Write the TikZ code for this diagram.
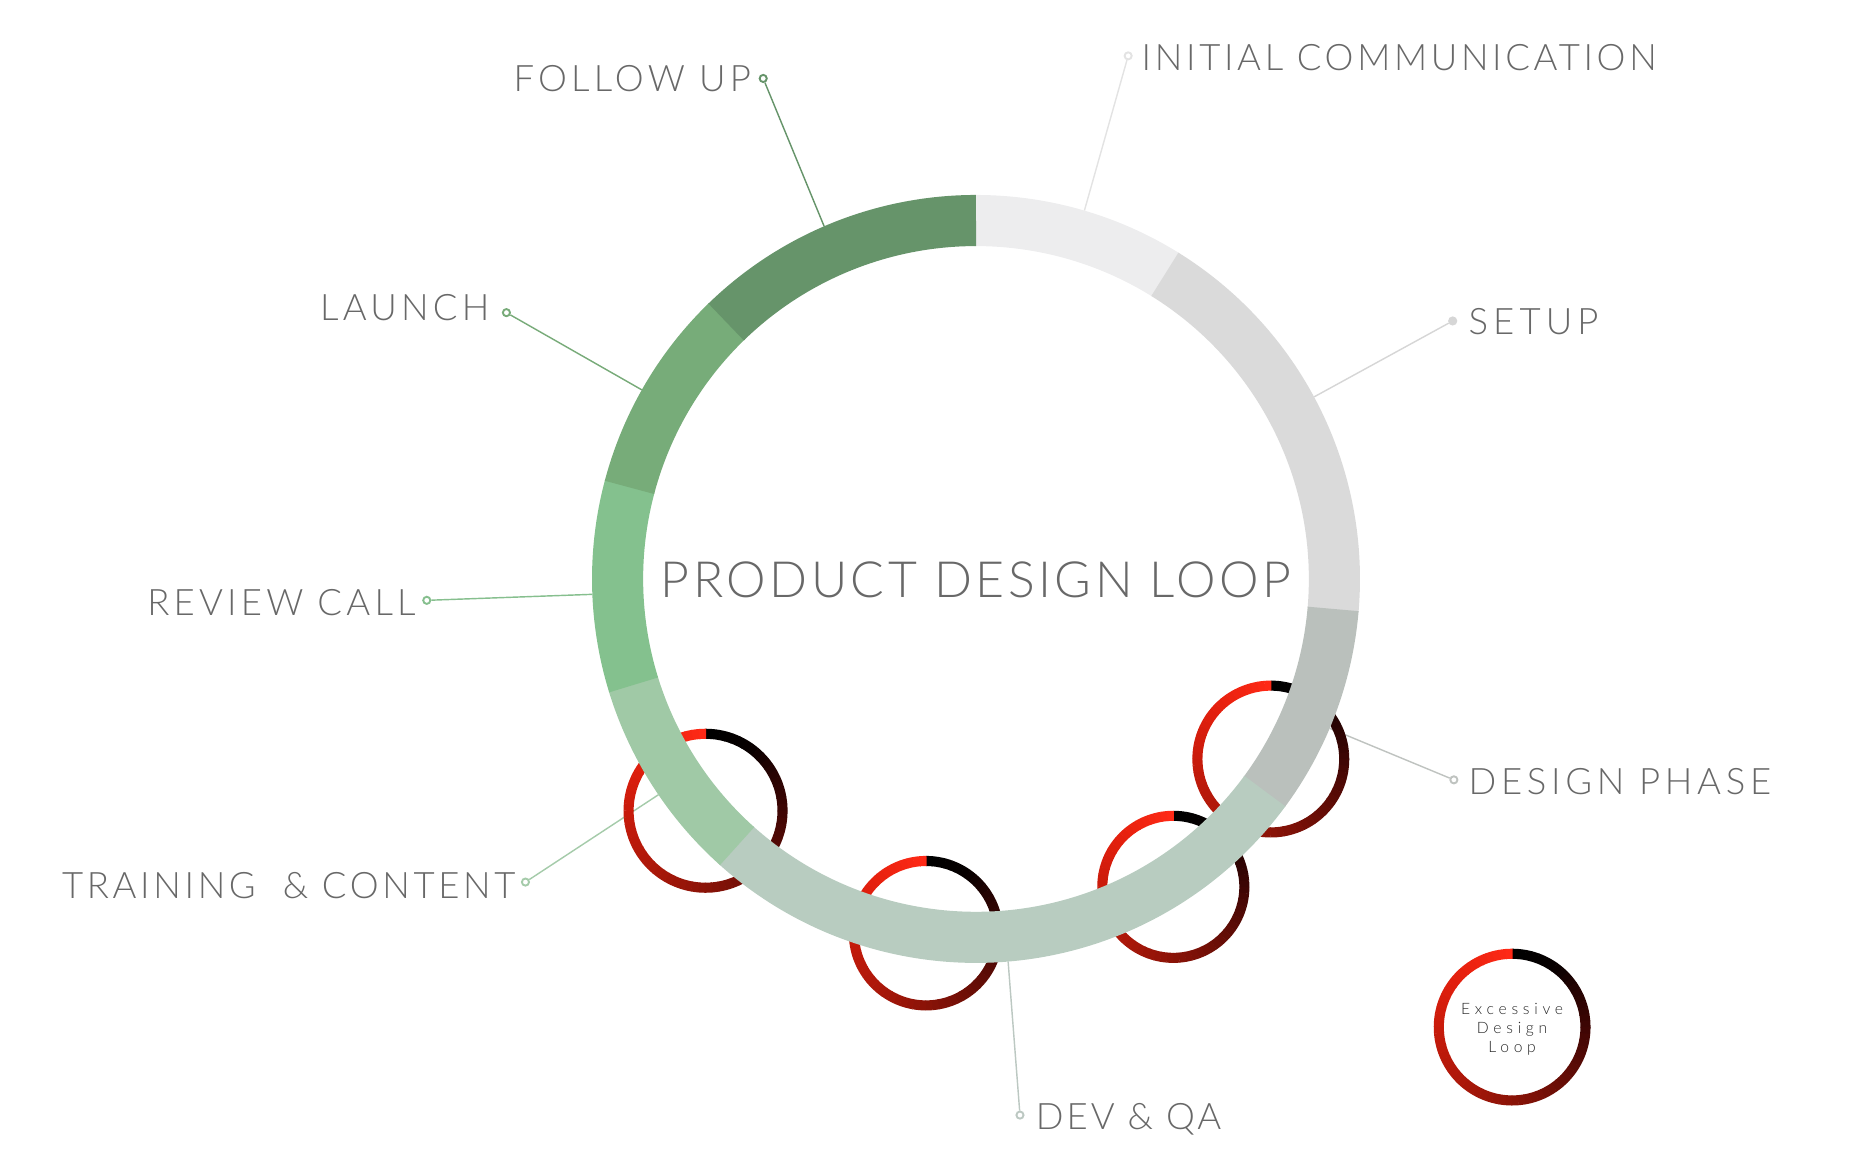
\documentclass[tikz,border=0pt]{standalone}
\usepackage{fontspec}
\usetikzlibrary{calc}
\IfFontExistsTF{Lato Light}{\def\labfontname{Lato Light}}{\def\labfontname{Lato}}
\setmainfont{\labfontname}
\newfontfamily\labf{\labfontname}[LetterSpace=11.5]
\newfontfamily\labni{\labfontname}[LetterSpace=10]
\newfontfamily\labtr{\labfontname}[LetterSpace=10]
\newfontfamily\labdv{\labfontname}[LetterSpace=8.2]
\newfontfamily\labds{\labfontname}[LetterSpace=12.9]
\newfontfamily\labst{\labfontname}[LetterSpace=14]
\newfontfamily\titf{\labfontname}[LetterSpace=7]
\newfontfamily\legf{\labfontname}[LetterSpace=30]
\definecolor{txt}{HTML}{686868}
\definecolor{cFol}{HTML}{66946A}
\definecolor{cLau}{HTML}{77AC79}
\definecolor{cRev}{HTML}{84C18E}
\definecolor{cTra}{HTML}{A0C9A6}
\definecolor{cDev}{HTML}{B8CCC0}
\definecolor{cDes}{HTML}{BAC0BC}
\definecolor{cSet}{HTML}{DADADA}
\definecolor{cIni}{HTML}{EDEDEE}
\definecolor{lFol}{HTML}{66946A}
\definecolor{lIni}{HTML}{E3E3E3}
\definecolor{lSet}{HTML}{D6D6D6}
\definecolor{lDes}{HTML}{BFC3C0}
\definecolor{lDev}{HTML}{BCC8C2}
\definecolor{lTra}{HTML}{A5CBAA}
\definecolor{lRev}{HTML}{86BF8E}
\definecolor{lLau}{HTML}{78AB79}
\definecolor{rg0}{HTML}{000000}
\definecolor{rg1}{HTML}{070000}
\definecolor{rg2}{HTML}{260302}
\definecolor{rg3}{HTML}{3E0604}
\definecolor{rg4}{HTML}{650D06}
\definecolor{rg5}{HTML}{8A1307}
\definecolor{rg6}{HTML}{AE180A}
\definecolor{rg7}{HTML}{C91B0B}
\definecolor{rg8}{HTML}{E6200E}
\definecolor{rg9}{HTML}{FF2A16}
\newcommand\redring[3]{%
  \foreach \ta/\tb/\ca/\cb in {0/35/rg0/rg1,35/60/rg1/rg2,60/90/rg2/rg3,90/135/rg3/rg4,135/180/rg4/rg5,180/225/rg5/rg6,225/270/rg6/rg7,270/315/rg7/rg8,315/360/rg8/rg9}{%
    \pgfmathtruncatemacro\nn{(\tb-\ta)/5}%
    \foreach \k in {1,...,\nn}{%
      \pgfmathsetmacro\sang{90-\ta-(\k-1)*5}%
      \pgfmathsetmacro\pp{100*(\k-0.5)/\nn}%
      \draw[line width=4.25pt, draw=\cb!\pp!\ca] (#1,#2) ++(\sang:#3) arc[start angle=\sang, end angle=\sang-5.4, radius=#3];
    }%
  }%
}
\begin{document}
\begin{tikzpicture}[x=0.5pt,y=0.5pt,
  lab/.style={font={\labf\fontsize{15.35pt}{18pt}\selectfont}, text=txt, inner sep=0pt},
  tit/.style={font={\titf\fontsize{21pt}{24pt}\selectfont}, text=txt, inner sep=0pt},
  leg/.style={font={\legf\fontsize{6.6pt}{8pt}\selectfont}, text=black!85, inner sep=0pt},
  dotn/.style={circle, draw=#1, fill=white, line width=0.8pt, minimum size=3pt, inner sep=0pt},
  conn/.style={draw=#1, line width=0.6pt},
  seg/.style={line width=21.5pt, draw=#1}]
\useasboundingbox (0,0) rectangle (1568,971);
\def\cx{821}\def\cy{484}
% ring anchor points
\coordinate (rc) at (\cx,\cy);
\coordinate (rFol) at ($(rc)+(113.3:323)$);
\coordinate (rIni) at ($(rc)+(73.6:323)$);
\coordinate (rSet) at ($(rc)+(28.3:323)$);
\coordinate (rDes) at ($(rc)+(-22.9:323)$);
\coordinate (rDev) at ($(rc)+(-85.2:323)$);
\coordinate (rTra) at ($(rc)+(214.2:323)$);
\coordinate (rRev) at ($(rc)+(182.3:323)$);
\coordinate (rLau) at ($(rc)+(150.5:323)$);
% dots
\node[dotn=lFol] (dFol) at (642,905) {};
\node[dotn=lIni] (dIni) at (949,924) {};
\node[dotn=lSet, fill=lSet] (dSet) at (1222,701) {};
\node[dotn=lDes] (dDes) at (1223,315) {};
\node[dotn=lDev] (dDev) at (858,33) {};
\node[dotn=lTra] (dTra) at (442,229) {};
\node[dotn=lRev] (dRev) at (359,466) {};
\node[dotn=lLau] (dLau) at (426,708) {};
% connectors
\draw[conn=lFol] (dFol) -- (rFol);
\draw[conn=lIni] (dIni) -- (rIni);
\draw[conn=lSet] (dSet) -- (rSet);
\draw[conn=lDes] (dDes) -- (rDes);
\draw[conn=lDev] (dDev) -- (rDev);
\draw[conn=lTra] (dTra) -- (rTra);
\draw[conn=lRev] (dRev) -- (rRev);
\draw[conn=lLau] (dLau) -- (rLau);
% red loops
\redring{593.5}{289}{64.75}
\redring{779}{186}{60.75}
\redring{987}{225}{59.75}
\redring{1069}{332.5}{61.75}
\redring{1272}{107}{61.7}
% main ring
\draw[seg=cIni] (rc) ++(58:301.5) arc[start angle=58,end angle=90.3,radius=301.5];
\draw[seg=cSet] (rc) ++(-5:301.5) arc[start angle=-5,end angle=58.2,radius=301.5];
\draw[seg=cDes] (rc) ++(-36.5:301.5) arc[start angle=-36.5,end angle=-4.8,radius=301.5];
\draw[seg=cDev] (rc) ++(-132:301.5) arc[start angle=-132,end angle=-36.3,radius=301.5];
\draw[seg=cTra] (rc) ++(197:301.5) arc[start angle=197,end angle=228.2,radius=301.5];
\draw[seg=cRev] (rc) ++(165:301.5) arc[start angle=165,end angle=197.2,radius=301.5];
\draw[seg=cLau] (rc) ++(134:301.5) arc[start angle=134,end angle=165.2,radius=301.5];
\draw[seg=cFol] (rc) ++(90:301.5) arc[start angle=90,end angle=134.2,radius=301.5];
% labels
\node[tit, anchor=base] (title) at (821,468) {PRODUCT DESIGN LOOP};
\node[lab, anchor=base east] (tFol) at (632,894) {FOLLOW UP};
\node[lab, font={\labni\fontsize{15.35pt}{18pt}\selectfont}, anchor=base west] (tIni) at (960,912) {INITIAL COMMUNICATION};
\node[lab, font={\labst\fontsize{15.35pt}{18pt}\selectfont}, anchor=base west] (tSet) at (1235,690) {SETUP};
\node[lab, font={\labds\fontsize{15.35pt}{18pt}\selectfont}, anchor=base west] (tDes) at (1235,303) {DESIGN PHASE};
\node[lab, font={\labdv\fontsize{15.35pt}{18pt}\selectfont}, anchor=base west] (tDev) at (871,21) {DEV \& QA};
\node[lab, font={\labtr\fontsize{15.35pt}{18pt}\selectfont}, anchor=base east] (tTra) at (434,215) {TRAINING\ \ \& CONTENT};
\node[lab, anchor=base east] (tRev) at (350,453) {REVIEW CALL};
\node[lab, anchor=base east] (tLau) at (412,701) {LAUNCH};
\node[leg, anchor=base] (leg1) at (1272,118) {Excessive};
\node[leg, anchor=base] (leg2) at (1272,102) {Design};
\node[leg, anchor=base] (leg3) at (1272,85.6) {Loop};
\end{tikzpicture}
\end{document}
